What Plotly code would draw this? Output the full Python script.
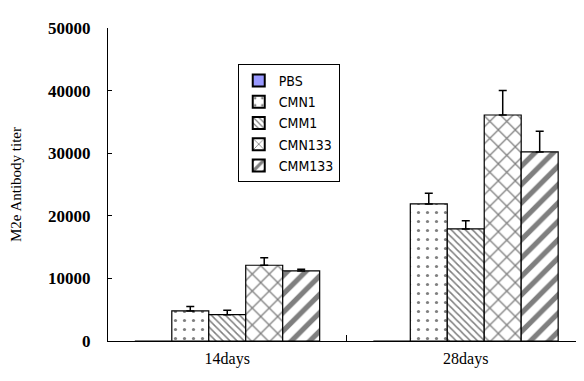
import plotly.graph_objects as go

categories = ["14days", "28days"]
series_names = ["PBS", "CMN1", "CMM1", "CMN133", "CMM133"]
values = {
    "PBS": [0, 0],
    "CMN1": [4800, 21900],
    "CMM1": [4200, 17900],
    "CMN133": [12100, 36100],
    "CMM133": [11200, 30200],
}
errors = {
    "PBS": [0, 0],
    "CMN1": [700, 1700],
    "CMM1": [700, 1300],
    "CMN133": [1200, 3900],
    "CMM133": [250, 3300],
}
y_ticks = [0, 10000, 20000, 30000, 40000, 50000]

patterns = {
    "PBS": dict(shape="", fillmode="replace"),
    "CMN1": dict(shape=".", size=9, solidity=0.1),
    "CMM1": dict(shape="\\", size=5, solidity=0.3),
    "CMN133": dict(shape="x", size=12, solidity=0.2),
    "CMM133": dict(shape="/", size=13, solidity=0.4),
}
colors = {"PBS": "#9999FF"}

fig = go.Figure()
for name in series_names:
    pat = dict(patterns[name])
    if name != "PBS":
        pat.update(fgcolor="black", bgcolor="white")
    fig.add_trace(go.Bar(
        name=name,
        x=categories,
        y=values[name],
        marker=dict(color=colors.get(name, "white"),
                    line=dict(color="black", width=1.2),
                    pattern=pat),
        error_y=dict(type="data", array=errors[name], arrayminus=[0, 0],
                     symmetric=False, color="black", thickness=1.5, width=4,
                     visible=(name != "PBS")),
    ))

fig.update_layout(
    width=584, height=381,
    margin=dict(l=100, r=7, t=20, b=48),
    paper_bgcolor="white", plot_bgcolor="white",
    barmode="group", bargap=0.225, bargroupgap=0,
    font=dict(family="Liberation Serif, Times New Roman, serif", color="black"),
    legend=dict(
        x=0.272, y=0.885, xanchor="left", yanchor="top",
        bordercolor="black", borderwidth=1, bgcolor="white",
        font=dict(family="DejaVu Sans Condensed, Liberation Sans Narrow, sans-serif", size=14),
        itemsizing="constant", itemwidth=30,
    ),
    xaxis=dict(
        showline=True, linecolor="black", linewidth=1.2,
        ticks="inside", tickson="boundaries", ticklen=6, tickcolor="black",
        tickfont=dict(size=16), ticklabelstandoff=3,
        range=[-0.5, 1.5],
    ),
    yaxis=dict(
        range=[0, 50000], tickvals=y_ticks, tickformat="d",
        showline=True, linecolor="black", linewidth=1.2,
        ticks="inside", ticklen=4, tickcolor="black",
        showgrid=False, zeroline=False,
        tickfont=dict(size=17, family="Liberation Serif, serif", weight="bold"),
        ticklabelstandoff=13,
        title=dict(text="M2e Antibody titer", font=dict(size=15), standoff=22),
    ),
)

fig.write_html("out.html")
